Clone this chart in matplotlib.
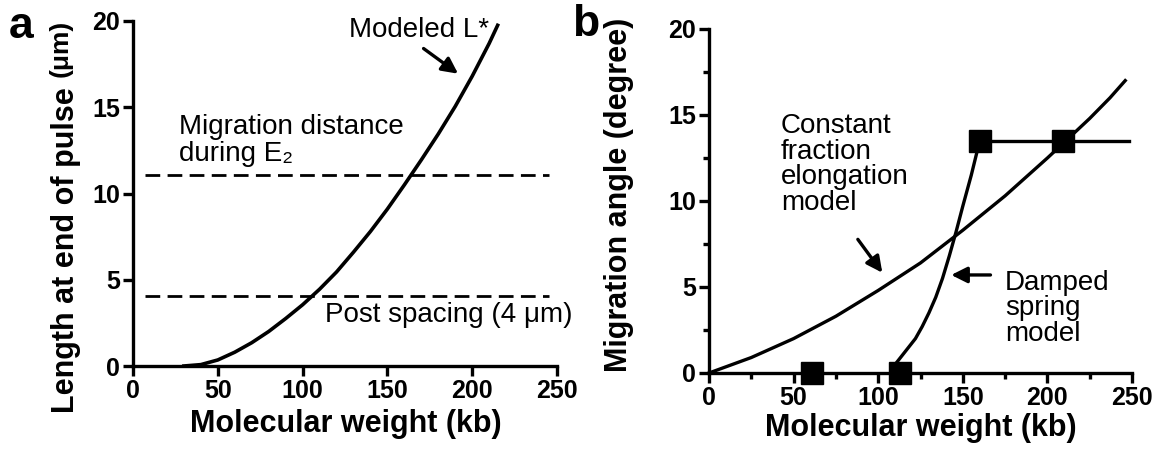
import numpy as np
import matplotlib
matplotlib.use("Agg")
import matplotlib.pyplot as plt
from matplotlib.ticker import MultipleLocator

plt.rcParams["font.family"] = ["Liberation Sans", "DejaVu Sans"]

## Data ----------------------------------

# Panel a: modeled length at end of pulse
mw_a = [30, 40, 50, 60, 70, 80, 90, 100, 110, 120, 130, 140, 150, 160, 170, 180, 190, 200, 210, 215]
len_a = [0.0, 0.08, 0.35, 0.8, 1.35, 2.0, 2.75, 3.55, 4.45, 5.45, 6.6, 7.8, 9.1, 10.5, 11.95, 13.45, 15.05, 16.8, 18.7, 19.75]
migration_dist = 11.1
post_spacing = 4.05

# Panel b: constant fraction elongation model
mw_cf = [0, 25, 50, 75, 100, 125, 150, 175, 200, 212, 225, 237, 246]
angle_cf = [0.0, 0.9, 2.0, 3.3, 4.8, 6.4, 8.3, 10.3, 12.5, 13.6, 14.8, 16.0, 17.0]

# Panel b: damped spring model
mw_ds = [110, 114, 118, 122, 126, 130, 134, 138, 142, 146, 150, 155, 160]
angle_ds = [0.5, 1.0, 1.5, 2.0, 2.7, 3.5, 4.4, 5.5, 6.8, 8.2, 9.7, 11.5, 13.5]
plateau_mw = [160, 248]
plateau_angle = [13.5, 13.5]

# Panel b: measured points
mw_pts = [61, 113, 160, 209]
angle_pts = [0, 0, 13.5, 13.5]

## Figure ---------------------------------

fig = plt.figure(figsize=(11.59, 4.49), dpi=100)
ax1 = fig.add_axes([133 / 1159, 83 / 449, 424 / 1159, 345 / 449])
ax2 = fig.add_axes([709 / 1159, 76 / 449, 423 / 1159, 344 / 449])


def style_axis(ax, minor):
    ax.set_xlim(0, 250)
    ax.set_ylim(0, 20)
    ax.spines["top"].set_visible(False)
    ax.spines["right"].set_visible(False)
    for s in ["left", "bottom"]:
        ax.spines[s].set_linewidth(2.4)
    ax.xaxis.set_major_locator(MultipleLocator(50))
    ax.yaxis.set_major_locator(MultipleLocator(5))
    if minor:
        ax.xaxis.set_minor_locator(MultipleLocator(25))
        ax.yaxis.set_minor_locator(MultipleLocator(2.5))
    ax.tick_params(which="major", direction="out", length=7, width=2.4, labelsize=18, pad=2.5)
    ax.tick_params(which="minor", direction="out", length=4, width=2.4)
    for lab in ax.get_xticklabels() + ax.get_yticklabels():
        lab.set_fontweight("bold")
    ax.set_xlabel("Molecular weight (kb)", fontsize=22, fontweight="bold")


# Panel a
ax1.plot(mw_a, len_a, color="black", lw=2.6, clip_on=False, solid_joinstyle="round")
ax1.hlines([migration_dist, post_spacing], 7, 245, colors="black", lw=2.0,
           linestyles=(0, (5.3, 2.65)))
style_axis(ax1, minor=False)
ax1.xaxis.set_label_coords(0.502, -0.125)
fig.text(66 / 1159, 1 - 250 / 449, "Length at end of pulse", rotation=90,
         fontsize=22, fontweight="bold", ha="center", va="center")
fig.text(61 / 1159, 1 - 48 / 449, "(\u03bcm)", rotation=90,
         fontsize=19, fontweight="bold", ha="center", va="center")
ax1.text(27, 14.6, "Migration distance\nduring E\u2082", fontsize=20, va="top", linespacing=1.05)
ax1.text(113, 2.95, "Post spacing (4 \u03bcm)", fontsize=20, va="center")
ax1.text(210, 19.45, "Modeled L*", fontsize=20, ha="right", va="center")
ax1.annotate("", xy=(193, 16.85), xytext=(170, 18.5),
             arrowprops=dict(arrowstyle="-|>", color="black", lw=2.4, mutation_scale=24))
fig.text(9 / 1159, 1 - 38 / 449, "a", fontsize=32, fontweight="bold")

# Panel b
ax2.plot(mw_cf, angle_cf, color="black", lw=2.4, clip_on=False, solid_joinstyle="round")
ax2.plot(mw_ds, angle_ds, color="black", lw=2.4, solid_joinstyle="round")
ax2.plot(plateau_mw, plateau_angle, color="black", lw=2.4, clip_on=False)
ax2.plot(mw_pts, angle_pts, "s", color="black", ms=16, clip_on=False, zorder=5)
style_axis(ax2, minor=True)
ax2.xaxis.set_label_coords(0.5, -0.115)
ax2.set_ylabel("Migration angle (degree)", fontsize=22, fontweight="bold")
ax2.yaxis.set_label_coords(-0.177, 0.517)
ax2.text(42.5, 15.1, "Constant\nfraction\nelongation\nmodel", fontsize=20, va="top", linespacing=0.98)
ax2.text(175, 6.0, "Damped\nspring\nmodel", fontsize=20, va="top", linespacing=0.98)
ax2.annotate("", xy=(103.4, 5.7), xytext=(87, 7.9),
             arrowprops=dict(arrowstyle="-|>", color="black", lw=2.4, mutation_scale=24))
ax2.annotate("", xy=(141.5, 5.7), xytext=(168, 5.7),
             arrowprops=dict(arrowstyle="-|>", color="black", lw=2.4, mutation_scale=24))
fig.text(572 / 1159, 1 - 36 / 449, "b", fontsize=32, fontweight="bold")

fig.savefig("out.png", dpi=100)
